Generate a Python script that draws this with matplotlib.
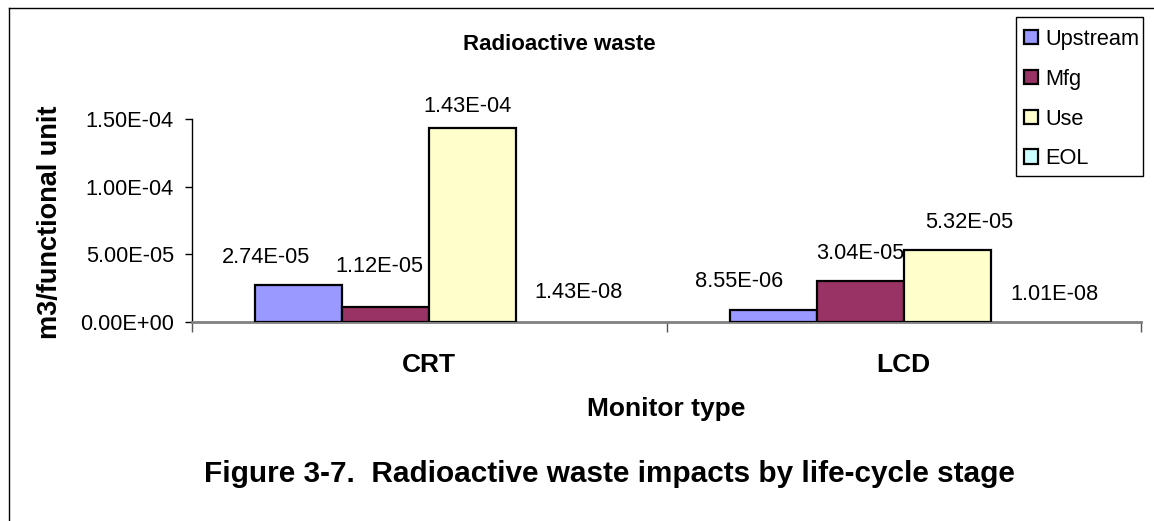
import numpy as np
import matplotlib
matplotlib.use("Agg")
import matplotlib.pyplot as plt
from matplotlib.lines import Line2D
from matplotlib.patches import Rectangle

# data
categories = ["CRT", "LCD"]
stages = ["Upstream", "Mfg", "Use", "EOL"]
upstream = [2.74e-05, 8.55e-06]
mfg = [1.12e-05, 3.04e-05]
use = [1.43e-04, 5.32e-05]
eol = [1.43e-08, 1.01e-08]
yticks = [0.0, 5.0e-05, 1.0e-04, 1.5e-04]

colors = ["#9999FF", "#993366", "#FFFFCC", "#CCFFFF"]
# label offsets in pixels (Excel nudged a few of them)
offsets = [[(-33, 27), (-34, 29)],
           [(-6, 40), (0, 27)],
           [(-5, 22), (22, 28)],
           [(19, 29), (20, 27)]]

plt.rcParams['font.family'] = ['Liberation Sans', 'DejaVu Sans']

fig = plt.figure(figsize=(11.54, 5.21), dpi=100)
ax = fig.add_axes([192/1154, 199/521, 949/1154, 203/521])

x = np.arange(len(categories))
w = 0.1833
series = [upstream, mfg, use, eol]
for i, vals in enumerate(series):
    xs = x + (i - 1.5) * w
    # bars thinner than a pixel are not outlined (as in the original)
    lws = [1.6 if v > 1e-6 else 0 for v in vals]
    ax.bar(xs, vals, w, color=colors[i], edgecolor="black", linewidth=lws,
           label=stages[i], zorder=3)
    for j, v in enumerate(vals):
        ax.annotate("%.2E" % v, (xs[j], v), xytext=offsets[i][j],
                    textcoords="offset pixels", ha="center", va="center",
                    fontsize=15.7, zorder=4)

ax.set_xlim(-0.5, 1.5)
ax.set_ylim(0, 1.5e-4)
ax.set_yticks(yticks)
ax.set_yticklabels(["%.2E" % t for t in yticks], fontsize=15.7)
ax.tick_params(axis="y", length=5, width=1, pad=8)

ax.set_xticks(x)
ax.set_xticklabels(categories, fontsize=19, fontweight="bold")
ax.tick_params(axis="x", which="major", length=0, pad=22)
ax.set_xticks([-0.5, 0.5, 1.5], minor=True)
ax.tick_params(axis="x", which="minor", length=7, width=1, color="#555555")

for s in ["top", "right"]:
    ax.spines[s].set_visible(False)
ax.spines["bottom"].set_color("#808080")
ax.spines["bottom"].set_linewidth(2)
ax.spines["left"].set_linewidth(1)

fig.text(559/1154, 1 - 45/521, "Radioactive waste", ha="center", va="center",
         fontsize=16, fontweight="bold")
fig.text(50/1154, 1 - 222/521, "m3/functional unit", ha="center", va="center",
         rotation=90, fontsize=19.5, fontweight="bold")
fig.text(666/1154, 1 - 409/521, "Monitor type", ha="center", va="center",
         fontsize=19, fontweight="bold")
fig.text(609/1154, 1 - 474/521, "Figure 3-7.  Radioactive waste impacts by life-cycle stage",
         ha="center", va="center", fontsize=21.4, fontweight="bold")

leg = fig.legend(loc="upper left", bbox_to_anchor=(1024/1154, 1 - 29/521),
                 fontsize=15.7, frameon=False,
                 handlelength=0.63, handleheight=0.63, handletextpad=0.36,
                 labelspacing=0.86, borderpad=0, borderaxespad=0)
for h in leg.legend_handles:
    h.set_linewidth(1.6)
fig.add_artist(Rectangle((1016/1154, 1 - 176/521), 127/1154, 159/521,
                         transform=fig.transFigure, fill=False,
                         edgecolor="black", lw=1))

# outer border of the chart (only top and left visible)
fig.add_artist(Line2D([9/1154, 9/1154], [0, 1 - 8/521], color="black", lw=1))
fig.add_artist(Line2D([9/1154, 1], [1 - 8/521, 1 - 8/521], color="black", lw=1))

fig.savefig("out.png", dpi=100)
